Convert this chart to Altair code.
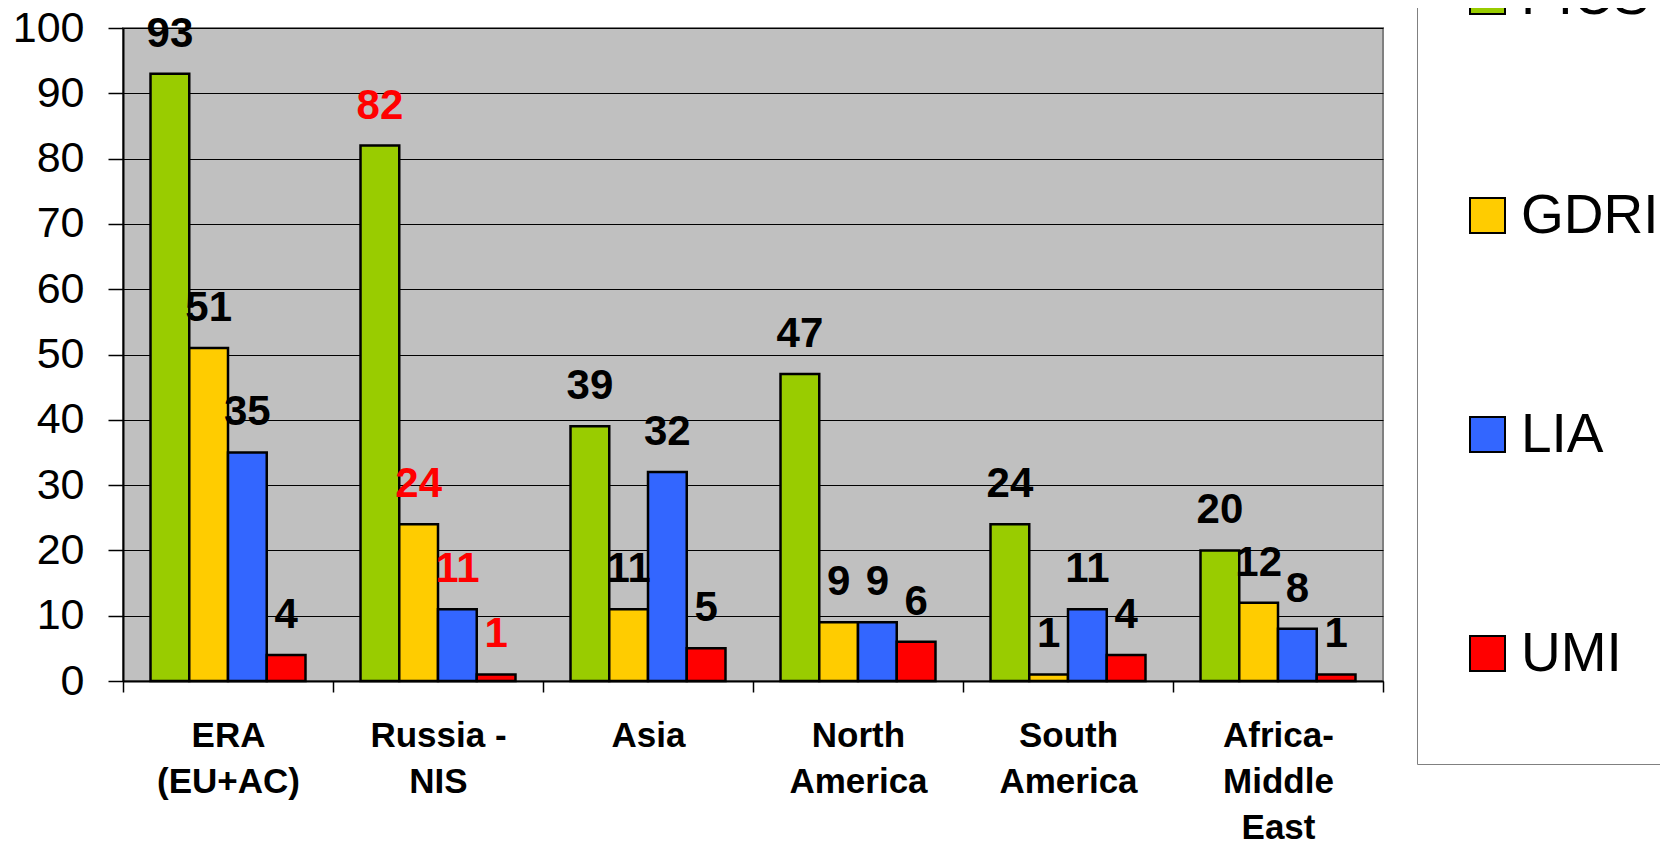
import altair as alt
import pandas as pd

categories = ["ERA\n(EU+AC)", "Russia -\nNIS", "Asia", "North\nAmerica", "South\nAmerica", "Africa-\nMiddle\nEast"]
series = ["PICS", "GDRI", "LIA", "UMI"]
colors = ["#99CC00", "#FFCC00", "#3366FF", "#FF0000"]
pics = [93, 82, 39, 47, 24, 20]
gdri = [51, 24, 11, 9, 1, 12]
lia = [35, 11, 32, 9, 11, 8]
umi = [4, 1, 5, 6, 4, 1]
y_ticks = list(range(0, 101, 10))

rows = []
for s, vals in zip(series, [pics, gdri, lia, umi]):
    for c, v in zip(categories, vals):
        rows.append({"region": c, "programme": s, "count": v})
df = pd.DataFrame(rows)

FONT = "Liberation Sans"

x_enc = alt.X(
    "region:N",
    sort=categories,
    scale=alt.Scale(paddingInner=0, paddingOuter=0),
    axis=alt.Axis(
        title=None, labelAngle=0, labelExpr="split(datum.label, '\\n')",
        labelFont=FONT, labelFontSize=35, labelFontWeight="bold", labelColor="black",
        labelLineHeight=46, labelPadding=26, labelBaseline="top", labelLimit=400,
        labelOverlap=False, tickSize=11, tickBand="extent", tickColor="black",
        tickWidth=1.5, domainColor="black", domainWidth=2, grid=False,
    ),
)
xoff_enc = alt.XOffset("programme:N", sort=series,
                       scale=alt.Scale(paddingInner=0, paddingOuter=0.71))
y_enc = alt.Y(
    "count:Q",
    scale=alt.Scale(domain=[0, 100], nice=False, zero=True),
    axis=alt.Axis(
        title=None, values=y_ticks, labelFont=FONT, labelFontSize=43, labelColor="black",
        labelPadding=24, tickSize=15, tickColor="black", tickWidth=1.5,
        domainColor="black", domainWidth=2, grid=True, gridColor="black", gridWidth=1,
    ),
)

bars = alt.Chart(df).mark_bar(stroke="black", strokeWidth=2.5).encode(
    x=x_enc,
    xOffset=xoff_enc,
    y=y_enc,
    color=alt.Color(
        "programme:N", sort=series,
        scale=alt.Scale(domain=series, range=colors),
        legend=alt.Legend(
            title=" ", titleOrient="bottom", titleFontSize=20, titlePadding=19,
            orient="none", legendX=1294, legendY=-102, direction="vertical",
            symbolType="square", symbolSize=1225, symbolStrokeColor="black",
            symbolStrokeWidth=2, symbolOpacity=1,
            labelFont=FONT, labelFontSize=55, labelColor="black", labelOffset=6,
            rowPadding=163, padding=43, strokeColor="#808080", fillColor="white",
        ),
    ),
)

labels = alt.Chart(df).mark_text(
    font=FONT, fontSize=42, fontWeight="bold", baseline="alphabetic", dy=-27
).encode(
    x=x_enc,
    xOffset=xoff_enc,
    y=alt.Y("count:Q"),
    text="count:Q",
    color=alt.condition("indexof(datum.region, 'Russia') >= 0",
                        alt.value("#FF0000"), alt.value("black")),
)

chart = alt.layer(bars, labels).properties(
    width=1260, height=653,
    autosize=alt.AutoSizeParams(type="none"),
    padding={"left": 115, "top": 20, "right": 277, "bottom": 160},
    background="white",
).configure_view(fill="#C0C0C0", stroke="#808080", strokeWidth=2)

chart.save("out.html", embed_options={"renderer": "svg", "actions": False})
